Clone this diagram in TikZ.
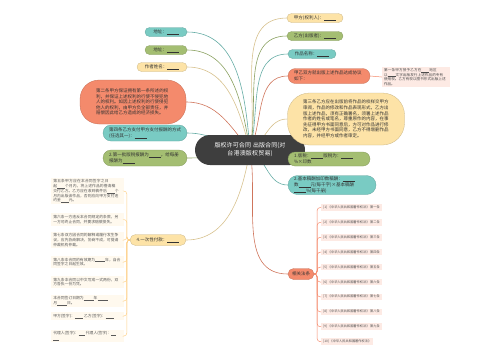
\documentclass[tikz,border=0pt]{standalone}
\usepackage{fontspec}
\setmainfont{Noto Sans CJK SC}
\XeTeXlinebreaklocale "zh"
\XeTeXlinebreakskip=0pt plus 0.1pt
\usetikzlibrary{positioning, backgrounds}

\definecolor{mtteal}{HTML}{79CBC3}
\definecolor{mtgreen}{HTML}{A4BE72}
\definecolor{mtyellow}{HTML}{FDE3A7}
\definecolor{mtsalmon}{HTML}{F48A6C}
\definecolor{mtdark}{HTML}{3E3E3E}
\definecolor{mtpink}{HTML}{FDEAE4}
\definecolor{mtcream}{HTML}{FFF9EE}

\newcommand{\blank}[1][12pt]{\rule[-0.6pt]{#1}{0.3pt}}

\begin{document}
\begin{tikzpicture}[
        x=1pt, y=-1pt,
        every node/.style={inner sep=0pt, font=\fontsize{4.5}{5.6}\selectfont, text=black!80},
        root/.style={fill=mtdark, rounded corners=15pt, minimum width=110pt, minimum height=30pt,
            text width=96pt, align=center, text=white, font=\fontsize{6}{8}\selectfont},
        pill/.style={draw=#1!80!black, line width=0.3pt, fill=#1, rounded corners=4.5pt,
            minimum height=9pt, inner xsep=5pt, inner ysep=1.5pt, align=left},
        note/.style={fill=mtcream, text width=68pt, inner xsep=2.5pt, inner ysep=2pt, align=left,
            font=\fontsize{3.8}{4.7}\selectfont, text=black!65, anchor=east},
        lawleaf/.style={fill=mtpink, inner xsep=2pt, inner ysep=1.6pt, anchor=west,
            font=\fontsize{3.2}{4}\selectfont, text=black!70},
        link/.style={draw=#1!85!black, line width=0.6pt},
        twig/.style={draw=#1, line width=0.5pt, rounded corners=3pt}
    ]

    \useasboundingbox (0,0) rectangle (500,360);

    % centre
    \node[root] (root) at (250,150) {版权许可合同 出版合同(对\\台港澳版权贸易)};

    % left side
    \node[pill=mtteal, minimum width=42pt] (addrA) at (166,32) {地址：\blank};
    \node[pill=mtgreen, minimum width=42pt] (addrB) at (166,50) {地址：\blank};
    \node[pill=mtyellow, minimum width=50pt] (author) at (162,67) {作者姓名：\blank};
    \node[pill=mtsalmon, rounded corners=19pt, minimum width=106pt, minimum height=44pt, text width=74pt] (art2) at (133,102)
        {第二条甲方保证拥有第一条所述的权利，并保证上述权利的行使不侵犯他人的权利。如因上述权利的行使侵犯他人的权利，由甲方负全部责任，并赔偿因此给乙方造成的经济损失。};
    \node[pill=mtteal, rounded corners=8pt, minimum width=84pt, minimum height=16pt, text width=72pt] (pay) at (145,133)
        {第四条乙方支付甲方支付报酬的方式(任选其一)：\blank};
    \node[pill=mtgreen, rounded corners=8pt, minimum width=84pt, minimum height=16pt, text width=72pt] (first) at (145,158)
        {2.第一批版税报酬为\blank，给每册报酬为\blank};
    \node[pill=mtyellow, rounded corners=5.5pt, minimum width=56pt, minimum height=11pt] (lump) at (158,240) {4.一次性付款：\blank};

    \node[note] (art5) at (124,191)
        {第五条甲方应在本合同签字之日起\blank[8pt]个月内，将上述作品的誊清稿交付乙方。乙方应在收到稿件后\blank[8pt]个月内出版该作品，否则应向甲方支付违约金\blank[8pt]元。};
    \node[note] (art6) at (124,219.5) {第六条一方违反本合同规定的条款，另一方可终止合同，并要求赔偿损失。};
    \node[note] (art7) at (124,240) {第七条双方因合同的解释或履行发生争议，应先协商解决，协商不成，可提请仲裁机构仲裁。};
    \node[note] (art8) at (124,262) {第八条本合同的有效期为\blank[10pt]年，自合同签字之日起生效。};
    \node[note] (art9) at (124,282) {第九条本合同以中文写成一式两份，双方各执一份为凭。};
    \node[note] (sign) at (124,301) {\mbox{本合同签订日期为\blank[10pt]年\blank[10pt]}\\月\blank[10pt]日。};
    \node[note] (sigA) at (124,316) {\mbox{甲方(签字)：\blank[8pt]\ 乙方(签字)：\blank[8pt]}};
    \node[note] (sigB) at (124,336) {\mbox{代理人(签字)：\blank[6pt]\ 代理人(签字)：\blank[5pt]}\\\blank[6pt]};

    % right side
    \node[pill=mtyellow, minimum width=56pt] (partyA) at (315,18) {甲方(权利人)：\blank};
    \node[pill=mtgreen, minimum width=56pt] (partyB) at (315,36) {乙方(出版者)：\blank};
    \node[pill=mtteal, minimum width=48pt] (title) at (312,54) {作品名称：\blank};
    \node[pill=mtsalmon, rounded corners=7.5pt, minimum width=82pt, minimum height=15pt, text width=70pt] (agree) at (329,76)
        {甲乙双方就出版上述作品达成协议\\如下：};
    \node[fill=mtpink, text width=64pt, inner xsep=2pt, inner ysep=2pt, align=left,
        font=\fontsize{3.6}{4.5}\selectfont, text=black!70] (art1) at (416,77)
        {第一条甲方授予乙方在\blank[8pt]地区以\blank[8pt]文字出版发行上述作品的专有使用权。乙方有权以图书形式出版上述作品。};
    \node[pill=mtyellow, rounded corners=22pt, minimum width=117pt, minimum height=52pt, text width=86pt] (art3) at (346,119)
        {第三条乙方应在出版前将作品的校样交甲方审阅，作品的修改和作品表现形式，乙方出版上述作品，须有正确署名，须署上述作品作者的姓名或笔名，尊重原作的内容，在事先征得甲方书面同意后，方可对作品进行修改，未经甲方书面同意，乙方不得增删作品内容，并经甲方或作者审定。};
    \node[pill=mtgreen, rounded corners=7pt, minimum width=82pt, minimum height=14pt, text width=70pt] (royalty) at (329,159)
        {1.版税：\blank 版税为：\blank\\\%×印数};
    \node[pill=mtteal, rounded corners=9.5pt, minimum width=88pt, minimum height=19pt, text width=76pt] (basic) at (332,185)
        {2.基本稿酬加印数稿酬：\blank\\数\blank 元(每千字)×基本稿酬\\\blank \%(每千册)};
    \node[pill=mtsalmon, rounded corners=5.5pt, minimum width=26pt, minimum height=11pt, inner xsep=2pt] (law) at (301,274) {相关法条};

    \foreach \i/\num in {1/一, 2/二, 3/三, 4/四, 5/五, 6/六, 7/七, 8/八, 9/九} {
        \node[lawleaf] (law\i) at (321,{192.6+14.9*\i}) {[\i] 《中华人民共和国著作权法》 第\num 条};
        \draw[twig=mtsalmon] (law.east) -- ++(3,0) |- (law\i.west);
    }
    \node[lawleaf] (law10) at (321,341.6) {[10] 《中华人民共和国著作权法》};
    \draw[twig=mtsalmon] (law.east) -- ++(3,0) |- (law10.west);

    % connectors
    \begin{scope}[on background layer]
    \draw[link=mtteal] (root.center) to[out=95, in=0] (addrA.east);
    \draw[link=mtgreen] (root.center) to[out=100, in=0] (addrB.east);
    \draw[link=mtyellow] (root.center) to[out=105, in=0] (author.east);
    \draw[link=mtsalmon] (root.center) to[out=130, in=0] (art2.east);
    \draw[link=mtteal] (root.center) to[out=170, in=0] (pay.east);
    \draw[link=mtgreen] (root.center) to[out=190, in=0] (first.east);
    \draw[link=mtyellow] (root.center) to[out=260, in=0] (lump.east);

    \draw[link=mtyellow] (root.center) to[out=80, in=180] (partyA.west);
    \draw[link=mtgreen] (root.center) to[out=78, in=180] (partyB.west);
    \draw[link=mtteal] (root.center) to[out=75, in=180] (title.west);
    \draw[link=mtsalmon] (root.center) to[out=65, in=180] (agree.west);
    \draw[link=mtyellow] (root.center) to[out=30, in=180] (art3.west);
    \draw[link=mtgreen] (root.center) to[out=-10, in=180] (royalty.west);
    \draw[link=mtteal] (root.center) to[out=-30, in=180] (basic.west);
    \draw[link=mtsalmon] (root.center) to[out=-80, in=180] (law.west);
    \end{scope}

    \draw[twig=mtsalmon] (agree.east) -- (art1.west);
    \foreach \leaf in {art5, art6, art7, art8, art9, sign, sigA, sigB} {
        \draw[twig=mtyellow!80!orange] (lump.west) -- ++(-3,0) |- (\leaf.east);
    }
\end{tikzpicture}
\end{document}
